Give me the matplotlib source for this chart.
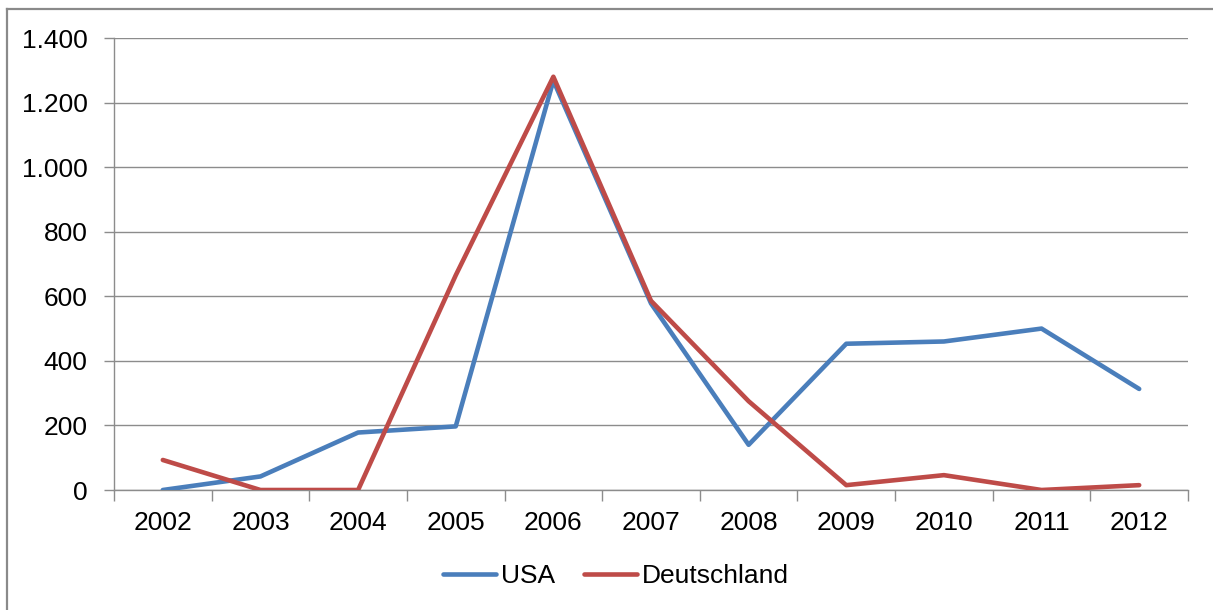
import matplotlib
matplotlib.use("Agg")
import matplotlib.pyplot as plt
from matplotlib.ticker import FuncFormatter, FixedLocator
from matplotlib.lines import Line2D

plt.rcParams['font.family'] = ['Liberation Sans', 'DejaVu Sans']

years = ["2002", "2003", "2004", "2005", "2006", "2007", "2008", "2009", "2010", "2011", "2012"]
usa = [0, 42, 178, 197, 1268, 578, 140, 453, 460, 500, 313]
deutschland = [93, 0, 0, 665, 1280, 586, 275, 15, 46, 0, 15]
y_ticks = [0, 200, 400, 600, 800, 1000, 1200, 1400]

blue = "#4A7EBB"
red = "#BE4B48"
grid_gray = "#8C8C8C"

W, H = 1213, 610
fig = plt.figure(figsize=(W / 100, H / 100), dpi=100)
ax = fig.add_axes([114 / W, 1 - 490 / H, (1188 - 114) / W, (490 - 38) / H])

x = list(range(len(years)))
ax.plot(x, usa, color=blue, lw=3.3, solid_joinstyle="round", solid_capstyle="round",
        label="USA", zorder=3)
ax.plot(x, deutschland, color=red, lw=3.3, solid_joinstyle="round", solid_capstyle="round",
        label="Deutschland", zorder=4)

ax.set_xlim(-0.5, len(years) - 0.5)
ax.set_ylim(0, 1400)

# y axis: German thousands separator
ax.yaxis.set_major_locator(FixedLocator(y_ticks))
ax.yaxis.set_major_formatter(FuncFormatter(lambda v, p: f"{int(v):,}".replace(",", ".")))
ax.grid(axis="y", color=grid_gray, lw=1.0, zorder=1)
ax.tick_params(axis="y", length=7, width=1, color=grid_gray, pad=12, labelsize=19)

# x axis: labels centered on categories, tick marks between them
ax.set_xticks(x)
ax.set_xticklabels(years)
ax.set_xticks([i - 0.5 for i in range(len(years) + 1)], minor=True)
ax.tick_params(axis="x", which="major", length=0, pad=15, labelsize=19)
ax.tick_params(axis="x", which="minor", length=8, width=1, color=grid_gray)

for side in ("top", "right"):
    ax.spines[side].set_visible(False)
for side in ("left", "bottom"):
    ax.spines[side].set_color(grid_gray)
    ax.spines[side].set_linewidth(1.0)

fig.legend(loc="center", bbox_to_anchor=(0.508, 1 - 576 / H), ncol=2, frameon=False,
           fontsize=19, handlelength=2.0, handletextpad=0.2, columnspacing=1.1)

# outer chart frame (top and left edges)
frame_kw = dict(color="#8A8A8A", lw=1.6, transform=fig.transFigure)
fig.add_artist(Line2D([7 / W, 1.0], [1 - 9 / H, 1 - 9 / H], **frame_kw))
fig.add_artist(Line2D([7 / W, 7 / W], [0.0, 1 - 9 / H], **frame_kw))

fig.savefig("out.png", dpi=100)
